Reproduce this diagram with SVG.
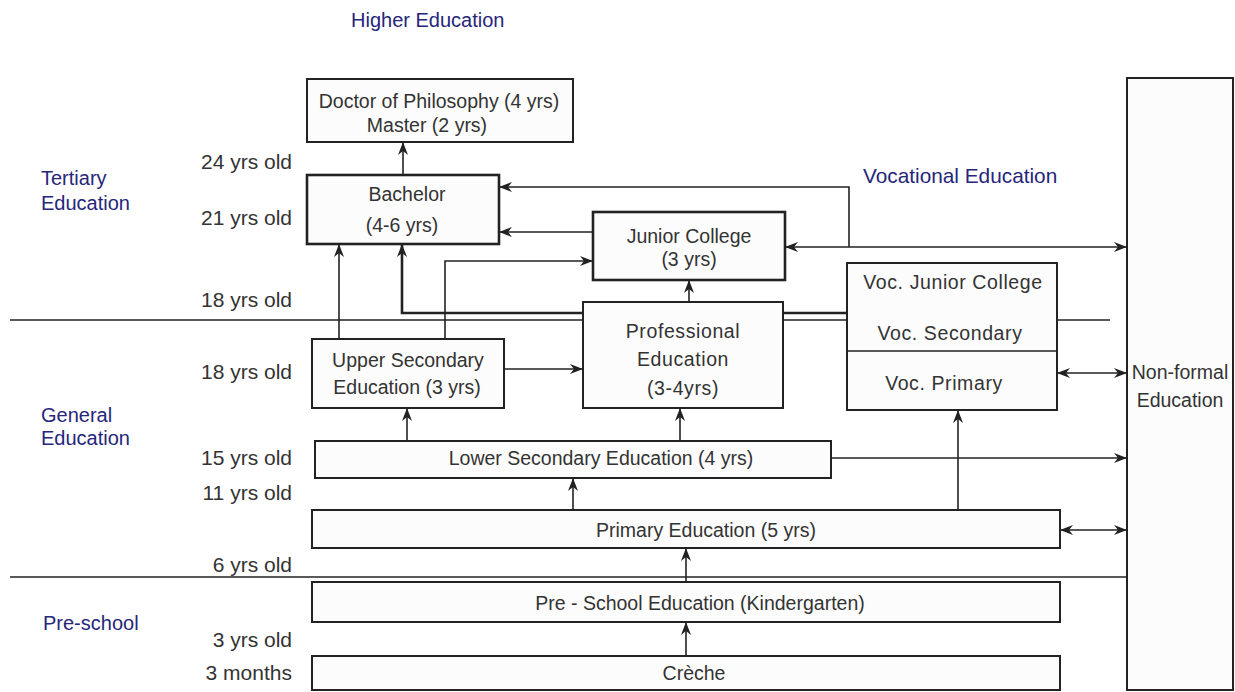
<svg xmlns="http://www.w3.org/2000/svg" width="1235" height="692" viewBox="0 0 1235 692">
<defs>
<marker id="arr" viewBox="0 0 13 10" refX="13" refY="5" markerWidth="13" markerHeight="10" orient="auto-start-reverse" markerUnits="userSpaceOnUse">
<path d="M0,0 L13,5 L0,10 L4,5 z" fill="#222"/>
</marker>
<style>
text{font-family:"Liberation Sans",Arial,sans-serif;font-size:19.5px;fill:#333}
.blue{fill:#26267a;font-size:20px}
.age{text-anchor:end;font-size:21px}
.c{text-anchor:middle}
.box{fill:#fcfcfc;stroke:#222;stroke-width:2}
.thick{stroke-width:2.6}
.sep{stroke:#222;stroke-width:1.6;fill:none}
.con{stroke:#222;stroke-width:1.6;fill:none}
.end{marker-end:url(#arr)}
.both{marker-start:url(#arr);marker-end:url(#arr)}
</style>
</defs>
<rect width="1235" height="692" fill="#fff"/>

<g id="labels">
<text class="blue" x="351" y="27">Higher Education</text>
<text class="blue" x="41" y="185">Tertiary</text>
<text class="blue" x="41" y="210">Education</text>
<text class="blue" x="41" y="422">General</text>
<text class="blue" x="41" y="445">Education</text>
<text class="blue" x="43" y="630">Pre-school</text>
<text class="blue" x="863" y="183" style="font-size:20.8px">Vocational Education</text>
<text class="age" x="292" y="169">24 yrs old</text>
<text class="age" x="292" y="225">21 yrs old</text>
<text class="age" x="292" y="307">18 yrs old</text>
<text class="age" x="292" y="379">18 yrs old</text>
<text class="age" x="292" y="465">15 yrs old</text>
<text class="age" x="292" y="500">11 yrs old</text>
<text class="age" x="292" y="572">6 yrs old</text>
<text class="age" x="292" y="647">3 yrs old</text>
<text class="age" x="292" y="680">3 months</text>
</g>

<g id="separators">
<line class="sep" x1="10" y1="320" x2="1110" y2="320"/>
<line class="sep" x1="10" y1="577" x2="1127" y2="577"/>
</g>

<g id="connectors">
<path class="con end" d="M403,175 V142"/>
<path class="con end" d="M339,339 V244"/>
<path class="con end" d="M445,339 V261 H593"/>
<path class="con end" d="M847,313 H402 V244" style="stroke-width:2.6"/>
<path class="con end" d="M849,247 V187 H499"/>
<path class="con both" d="M785,247 H1127"/>
<path class="con end" d="M593,232 H499"/>
<path class="con end" d="M504,369 H583"/>
<path class="con end" d="M689,302 V280"/>
<path class="con end" d="M407,441 V408"/>
<path class="con end" d="M680,441 V408"/>
<path class="con end" d="M831,458 H1127"/>
<path class="con end" d="M573,510 V478"/>
<path class="con end" d="M958,510 V410"/>
<path class="con both" d="M1060,530 H1127"/>
<path class="con both" d="M1057,373 H1127"/>
<path class="con end" d="M686,582 V548"/>
<path class="con end" d="M686,656 V622"/>
</g>

<g id="doctor">
<rect class="box" x="307" y="79" width="266" height="63"/>
<text class="c" x="439" y="108">Doctor of Philosophy (4 yrs)</text>
<text class="c" x="427" y="132">Master (2 yrs)</text>
</g>
<g id="bachelor">
<rect class="box thick" x="307" y="175" width="192" height="69"/>
<text class="c" x="407" y="201">Bachelor</text>
<text class="c" x="402" y="232">(4-6 yrs)</text>
</g>
<g id="junior-college">
<rect class="box thick" x="593" y="212" width="192" height="68"/>
<text class="c" x="689" y="243">Junior College</text>
<text class="c" x="689" y="266">(3 yrs)</text>
</g>
<g id="professional">
<rect class="box" x="583" y="302" width="200" height="106"/>
<text class="c" x="683" y="338" letter-spacing="0.6">Professional</text>
<text class="c" x="683" y="366" letter-spacing="0.6">Education</text>
<text class="c" x="683" y="395" letter-spacing="0.6">(3-4yrs)</text>
</g>
<g id="vocational">
<rect class="box" x="847" y="263" width="210" height="147"/>
<line x1="847" y1="351" x2="1057" y2="351" stroke="#222" stroke-width="1.6"/>
<text class="c" x="953" y="289" letter-spacing="0.6">Voc. Junior College</text>
<text class="c" x="950" y="340" letter-spacing="0.6">Voc. Secondary</text>
<text class="c" x="944" y="390" letter-spacing="0.6">Voc. Primary</text>
</g>
<g id="upper-secondary">
<rect class="box" x="312" y="339" width="192" height="69"/>
<text class="c" x="408" y="367">Upper Secondary</text>
<text class="c" x="407" y="394">Education (3 yrs)</text>
</g>
<g id="lower-secondary">
<rect class="box" x="315" y="441" width="516" height="37"/>
<text class="c" x="601" y="465">Lower Secondary Education (4 yrs)</text>
</g>
<g id="primary">
<rect class="box" x="312" y="510" width="748" height="38"/>
<text class="c" x="706" y="537">Primary Education (5 yrs)</text>
</g>
<g id="pre-school">
<rect class="box" x="312" y="582" width="748" height="40"/>
<text class="c" x="700" y="610">Pre - School Education (Kindergarten)</text>
</g>
<g id="creche">
<rect class="box" x="312" y="656" width="748" height="34"/>
<text class="c" x="694" y="680">Crèche</text>
</g>
<g id="non-formal">
<rect class="box" x="1127" y="78" width="106" height="612"/>
<text class="c" x="1180" y="379">Non-formal</text>
<text class="c" x="1180" y="407">Education</text>
</g>
</svg>
